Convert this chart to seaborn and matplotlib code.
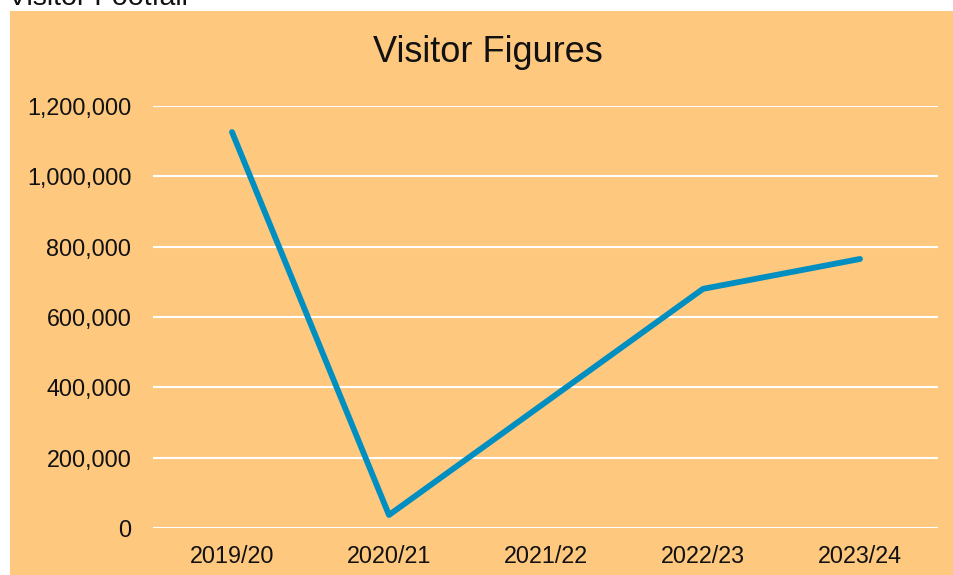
import numpy as np
import pandas as pd
import matplotlib
matplotlib.use("Agg")
import matplotlib.pyplot as plt
from matplotlib.patches import Rectangle
from matplotlib.ticker import FuncFormatter
import seaborn as sns

categories = ["2019/20", "2020/21", "2021/22", "2022/23", "2023/24"]
visitors = [1126000, 37000, np.nan, 680000, 765000]
y_ticks = [0, 200000, 400000, 600000, 800000, 1000000, 1200000]

sns.set_theme(style="white")
plt.rcParams["font.family"] = ["Liberation Sans", "DejaVu Sans"]

W, H = 954, 575
fig = plt.figure(figsize=(W / 100, H / 100), dpi=100, facecolor="white")

bg = "#FFC87F"
fig.patches.append(Rectangle((10 / W, -0.01), 1.01 - 10 / W, 1.01 - 11 / H, transform=fig.transFigure,
                             facecolor=bg, edgecolor="none", zorder=-1))

ax = fig.add_axes([153.5 / W, 47 / H, (938.5 - 153.5) / W, (528 - 106) / H])
ax.set_zorder(2)
ax.set_facecolor(bg)

df = pd.DataFrame({"pos": np.arange(len(categories)), "visitors": visitors})
sns.lineplot(data=df, x="pos", y="visitors", ax=ax, color="#008FC0", linewidth=4.2,
             solid_capstyle="round", solid_joinstyle="round")

ax.set_xlim(-0.5, len(categories) - 0.5)
ax.set_ylim(0, 1200000)
ax.set_xticks(np.arange(len(categories)))
ax.set_xticklabels(categories)
ax.set_yticks(y_ticks)
ax.yaxis.set_major_formatter(FuncFormatter(lambda v, p: f"{int(v):,}"))
ax.tick_params(axis="y", length=0, pad=16, labelsize=16.8, labelcolor="#111111")
ax.tick_params(axis="x", length=0, pad=12, labelsize=16.8, labelcolor="#111111")
ax.set_xlabel("")
ax.set_ylabel("")
ax.grid(axis="y", color="white", linewidth=1.5)
ax.grid(axis="x", visible=False)
ax.set_axisbelow(True)
for s in ax.spines.values():
    s.set_visible(False)

fig.text(488 / W, 1 - 52 / H, "Visitor Figures", ha="center", va="center",
         fontsize=26, color="#111111", zorder=3)
fig.text(8 / W, 1 - 5 / H, "Visitor Footfall", ha="left", va="baseline",
         fontsize=20.5, color="#111111", zorder=3)

fig.savefig("out.png", dpi=100, facecolor="white")
